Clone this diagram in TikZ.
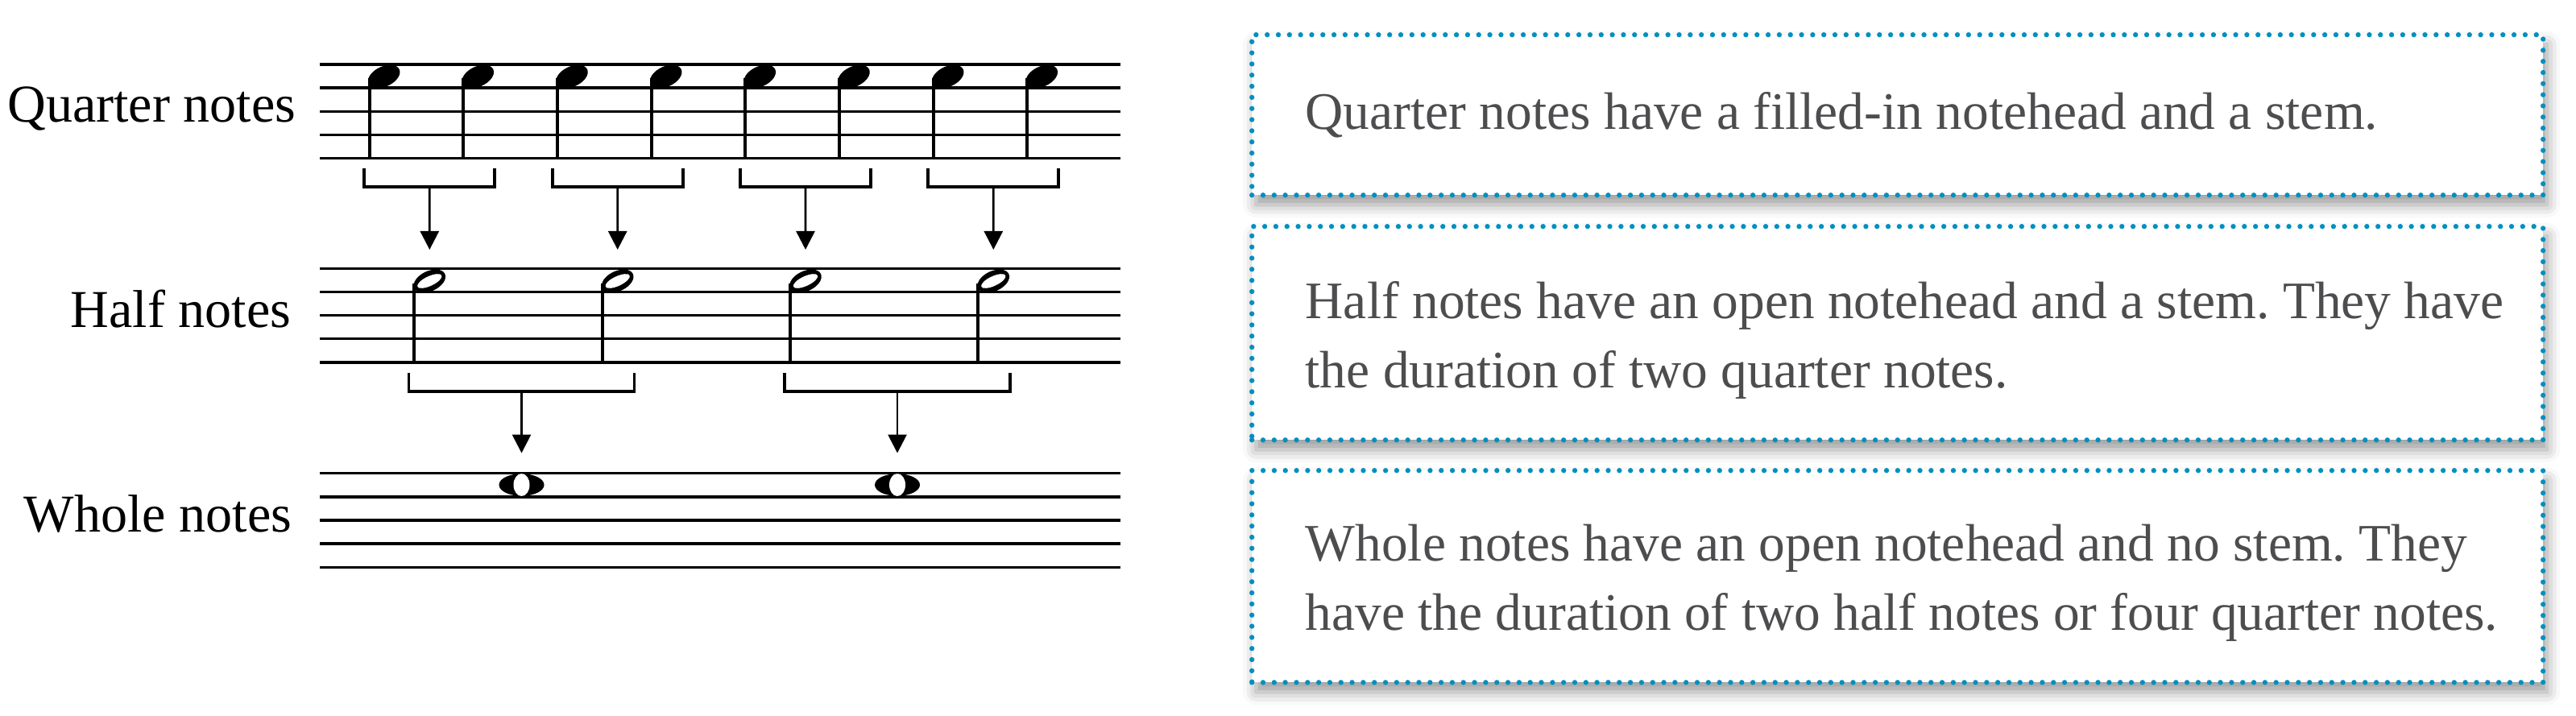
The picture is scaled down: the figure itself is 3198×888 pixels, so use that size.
\documentclass[tikz,border=0pt]{standalone}
\usepackage{fontspec}
\setmainfont{Liberation Serif}
\usetikzlibrary{shapes.geometric,arrows.meta,shadows.blur}
\definecolor{dotblue}{RGB}{0,143,192}
\definecolor{textgrey}{RGB}{77,77,79}
\frenchspacing
\tikzset{
  staffline/.style={line width=0.95pt},
  stem/.style={line width=1.15pt},
  bracket/.style={line width=1.05pt},
  arr/.style={line width=0.8pt, -{Triangle[width=0.23cm,length=0.23cm]}, shorten >=0.25cm},
  qhead/.style={ellipse, fill=black, inner sep=0pt, minimum width=0.42cm, minimum height=0.25cm, rotate=25},
  hhead/.style={qhead, path picture={\fill[white, rotate around={12:(path picture bounding box.center)}] (path picture bounding box.center) ellipse [x radius=0.165cm, y radius=0.06cm];}},
  whead/.style={ellipse, fill=black, inner sep=0pt, minimum width=0.56cm, minimum height=0.275cm, path picture={\fill[white, rotate around={28:(path picture bounding box.center)}] (path picture bounding box.center) ellipse [x radius=0.1cm, y radius=0.14cm];}},
  rowlabel/.style={font=\fontsize{18.8}{24.5}\selectfont, inner sep=0pt, anchor=base east},
  descbox/.style={draw=dotblue, line width=1.8pt, dash pattern=on 0pt off 3.93pt, line cap=round, fill=white, minimum width=16.02cm, anchor=north west, blur shadow={shadow xshift=0.5mm, shadow yshift=-1.2mm, shadow blur radius=1.6mm, shadow opacity=40}},
  desctext/.style={font=\fontsize{18.6}{24.5}\selectfont, text=textgrey, align=left, inner sep=0pt, anchor=west}
}
\begin{document}
\begin{tikzpicture}[x=0.01cm, y=-0.01cm]
  \useasboundingbox (0,0) rectangle (3198,888);

  % staves
  \foreach \s in {80,333.3,587.7}
    \foreach \i in {0,...,4}
      \draw[staffline] (397,{\s+29.15*\i}) -- (1391,{\s+29.15*\i});

  \node[rowlabel] (lquarter) at (368,152) {Quarter notes};
  \node[rowlabel] (lhalf) at (362,406) {Half notes};
  \node[rowlabel] (lwhole) at (363,660) {Whole notes};

  % quarter notes
  \node[qhead] (q1) at (476.7,95) {};
  \node[qhead] (q2) at (593.3,95) {};
  \node[qhead] (q3) at (710,95) {};
  \node[qhead] (q4) at (826.7,95) {};
  \node[qhead] (q5) at (943.3,95) {};
  \node[qhead] (q6) at (1060,95) {};
  \node[qhead] (q7) at (1176.7,95) {};
  \node[qhead] (q8) at (1293.3,95) {};
  \foreach \i in {1,...,8}
    \draw[stem] ([shift={(-18,2)}]q\i.center) -- ++(0,100);

  % half notes
  \node[hhead] (h1) at (533.3,349) {};
  \node[hhead] (h2) at (766.7,349) {};
  \node[hhead] (h3) at (1000,349) {};
  \node[hhead] (h4) at (1233.3,349) {};
  \foreach \i in {1,...,4}
    \draw[stem] ([shift={(-19,3)}]h\i.center) -- ++(0,99);

  % whole notes
  \node[whead] (w1) at (647.5,602) {};
  \node[whead] (w2) at (1114,602) {};

  % quarter -> half
  \foreach \i in {1,...,4} {
    \coordinate (b\i) at ([yshift=1.17cm]h\i.center);
    \draw[bracket] ([shift={(-81,-23)}]b\i) -- ++(0,23) -- ++(162,0) -- ++(0,-23);
    \draw[arr] (b\i) -- (h\i);
  }

  % half -> whole
  \foreach \i in {1,2} {
    \coordinate (c\i) at ([yshift=1.16cm]w\i.center);
    \draw[bracket] ([shift={(-140,-23)}]c\i) -- ++(0,23) -- ++(280,0) -- ++(0,-23);
    \draw[arr] (c\i) -- (w\i);
  }

  % descriptions
  \node[descbox, minimum height=1.99cm] (qbox) at (1551,40) {};
  \node[desctext] (qtext) at ([xshift=0.69cm]qbox.west) {Quarter notes have a filled-in notehead and a stem.};
  \node[descbox, minimum height=2.65cm] (hbox) at (1551,278) {};
  \node[desctext] (htext) at ([xshift=0.69cm, yshift=-0.09cm]hbox.west) {Half notes have an open notehead and a stem. They have\\the duration of two quarter notes.};
  \node[descbox, minimum height=2.63cm] (wbox) at (1551,581) {};
  \node[desctext] (wtext) at ([xshift=0.69cm, yshift=-0.08cm]wbox.west) {Whole notes have an open notehead and no stem. They\\have the duration of two half notes or four quarter notes.};
\end{tikzpicture}
\end{document}
